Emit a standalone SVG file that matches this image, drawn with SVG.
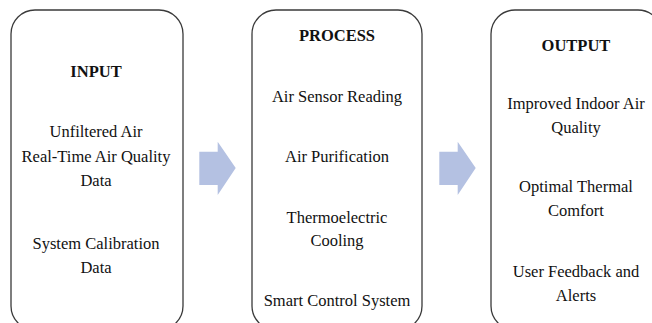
<svg xmlns="http://www.w3.org/2000/svg" width="652" height="323" viewBox="0 0 652 323">
<style>
.box{fill:#ffffff;stroke:#3a3a3a;stroke-width:1.3}
.t{font-family:"Liberation Serif","Times New Roman",serif;font-size:16.5px;fill:#111;text-anchor:middle}
.h{font-weight:bold;font-size:16.5px}
.arrow{fill:#b4c1e2}
</style>
<rect width="652" height="323" fill="#ffffff"/>
<g id="input">
<rect class="box" x="11" y="10" width="172" height="320" rx="24" ry="24"/>
<text class="t h" x="96" y="77">INPUT</text>
<text class="t" x="96" y="137">Unfiltered Air</text>
<text class="t" x="96" y="162">Real-Time Air Quality</text>
<text class="t" x="96" y="186">Data</text>
<text class="t" x="96" y="249">System Calibration</text>
<text class="t" x="96" y="273">Data</text>
</g>
<g id="process">
<rect class="box" x="252" y="10" width="170" height="320" rx="24" ry="24"/>
<text class="t h" x="337" y="41">PROCESS</text>
<text class="t" x="337" y="102">Air Sensor Reading</text>
<text class="t" x="337" y="162">Air Purification</text>
<text class="t" x="337" y="223">Thermoelectric</text>
<text class="t" x="337" y="246">Cooling</text>
<text class="t" x="337" y="306">Smart Control System</text>
</g>
<g id="output">
<rect class="box" x="491" y="10" width="171" height="320" rx="24" ry="24"/>
<text class="t h" x="576" y="51">OUTPUT</text>
<text class="t" x="576" y="109">Improved Indoor Air</text>
<text class="t" x="576" y="133">Quality</text>
<text class="t" x="576" y="192">Optimal Thermal</text>
<text class="t" x="576" y="216">Comfort</text>
<text class="t" x="576" y="277">User Feedback and</text>
<text class="t" x="576" y="301">Alerts</text>
</g>
<g id="connectors">
<polygon class="arrow" points="199.3,151.7 217.7,151.7 217.7,141.7 235.7,168 217.7,195 217.7,185 199.3,185"/>
<polygon class="arrow" points="439.3,151.7 457.7,151.7 457.7,141.7 475.7,168 457.7,195 457.7,185 439.3,185"/>
</g>
</svg>
